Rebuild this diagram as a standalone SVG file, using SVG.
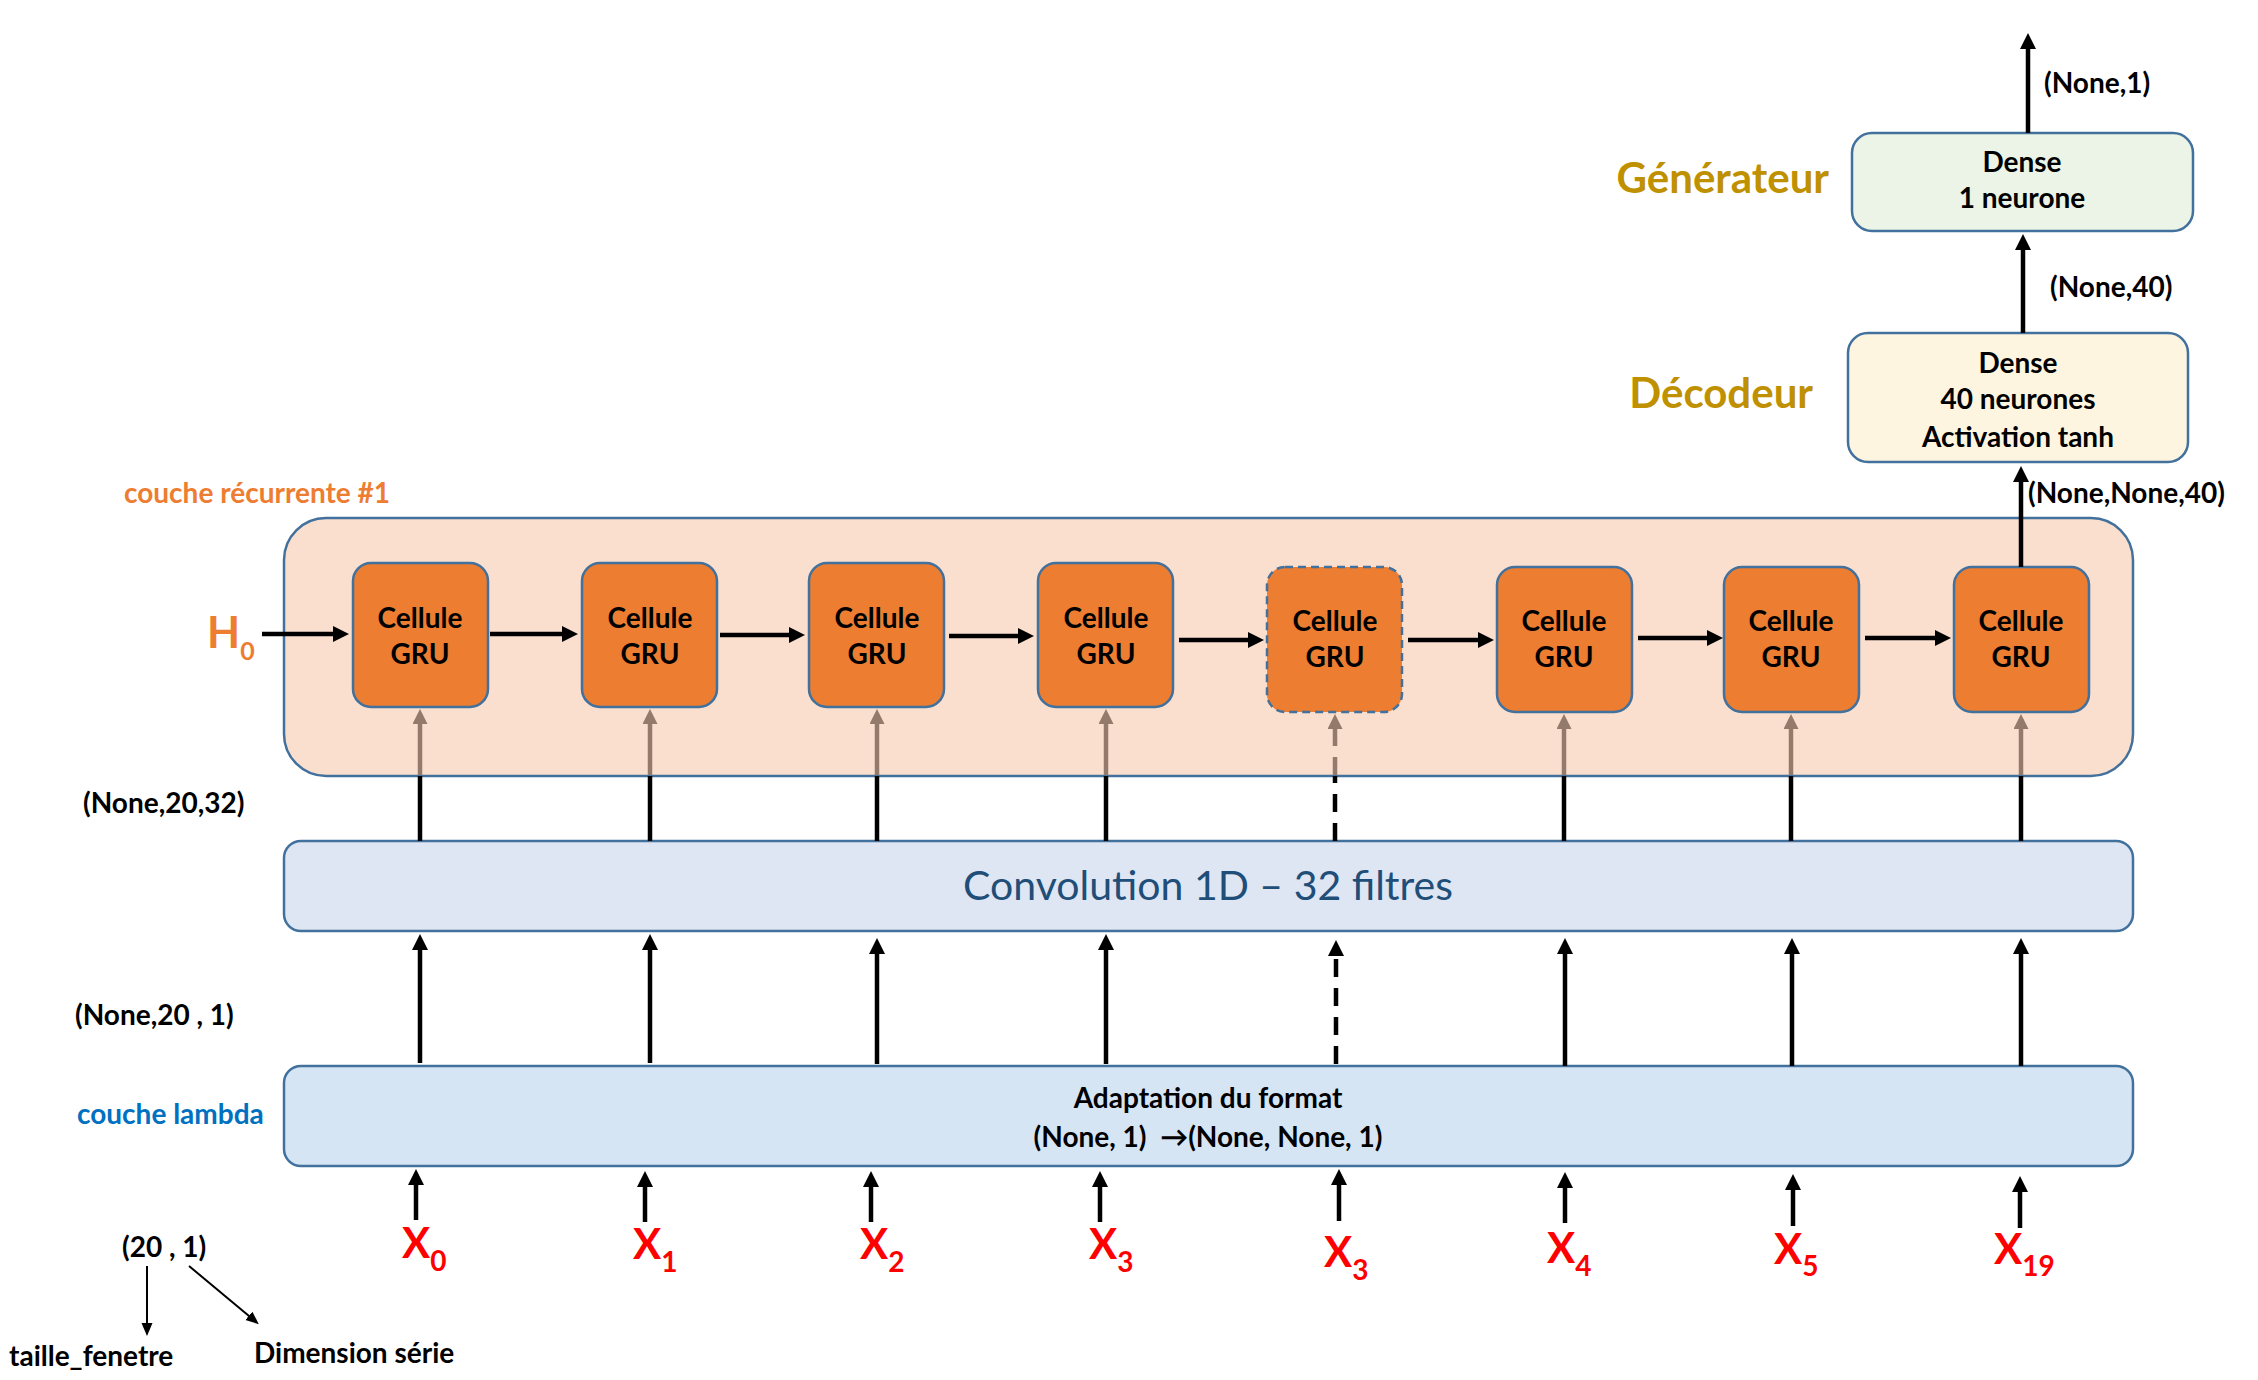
<svg xmlns="http://www.w3.org/2000/svg" width="2258" height="1380" viewBox="0 0 2258 1380">
<style>
text{font-family:Lato,"Open Sans","Liberation Sans",sans-serif;font-weight:bold;}
.blk{fill:#000;font-size:28px;}
.ctr{text-anchor:middle;}
.cell{fill:#ED7D31;stroke:#41719C;stroke-width:2.5;}
.box{stroke:#41719C;stroke-width:2.5;}
.ln{stroke:#000;stroke-width:4.5;fill:none;}
.br{stroke:#947A6A;stroke-width:4.5;fill:none;}
.dash{stroke-dasharray:18 11;}
.thin{stroke:#000;stroke-width:2;fill:none;}
.xl{fill:#FF0000;font-size:42px;}
.sub{font-size:28px;}
.gold{fill:#BF9000;font-size:42px;}
</style>
<defs>
<marker id="ab" markerUnits="userSpaceOnUse" markerWidth="18" markerHeight="18" refX="10" refY="8" orient="auto"><path d="M0,0 L16,8 L0,16 Z" fill="#000"/></marker>
<marker id="abr" markerUnits="userSpaceOnUse" markerWidth="18" markerHeight="18" refX="10" refY="7.5" orient="auto"><path d="M0,0 L15,7.5 L0,15 Z" fill="#947A6A"/></marker>
<marker id="as" markerUnits="userSpaceOnUse" markerWidth="14" markerHeight="12" refX="8" refY="5.5" orient="auto"><path d="M0,0 L13,5.5 L0,11 Z" fill="#000"/></marker>
</defs>
<rect width="2258" height="1380" fill="#fff"/>

<g id="recurrent-layer">
<rect x="284" y="518" width="1849" height="258" rx="42" fill="#FADFCF" class="box"/>
</g>
<g id="conv">
<rect x="284" y="841" width="1849" height="90" rx="17" fill="#DFE6F3" class="box"/>
<text x="1208" y="900" class="ctr" style="font-weight:normal;font-size:41px;fill:#1F4E79">Convolution 1D – 32 filtres</text>
</g>
<g id="lambda">
<rect x="284" y="1066" width="1849" height="100" rx="17" fill="#D6E5F4" class="box"/>
<text x="1208" y="1108" class="blk ctr">Adaptation du format</text>
<text x="1208" y="1147" class="blk ctr" xml:space="preserve">(None, 1)  →(None, None, 1)</text>
</g>
<g id="decodeur">
<rect x="1848" y="333" width="340" height="129" rx="20" fill="#FEF5E1" class="box"/>
<text x="2018" y="373" class="blk ctr">Dense</text>
<text x="2018" y="409" class="blk ctr">40 neurones</text>
<text x="2018" y="447" class="blk ctr">Activation tanh</text>
</g>
<g id="generateur">
<rect x="1852" y="133" width="341" height="98" rx="20" fill="#EBF4E6" class="box"/>
<text x="2022" y="172" class="blk ctr">Dense</text>
<text x="2022" y="208" class="blk ctr">1 neurone</text>
</g>

<g id="cell1"><rect x="353" y="563" width="135" height="144" rx="18" class="cell"/><text x="420" y="628" class="blk ctr">Cellule</text><text x="420" y="664" class="blk ctr">GRU</text></g>
<g id="cell2"><rect x="582" y="563" width="135" height="144" rx="18" class="cell"/><text x="650" y="628" class="blk ctr">Cellule</text><text x="650" y="664" class="blk ctr">GRU</text></g>
<g id="cell3"><rect x="809" y="563" width="135" height="144" rx="18" class="cell"/><text x="877" y="628" class="blk ctr">Cellule</text><text x="877" y="664" class="blk ctr">GRU</text></g>
<g id="cell4"><rect x="1038" y="563" width="135" height="144" rx="18" class="cell"/><text x="1106" y="628" class="blk ctr">Cellule</text><text x="1106" y="664" class="blk ctr">GRU</text></g>
<g id="cell5"><rect x="1267" y="567" width="135" height="145" rx="18" class="cell" stroke-dasharray="8 5"/><text x="1335" y="631" class="blk ctr">Cellule</text><text x="1335" y="667" class="blk ctr">GRU</text></g>
<g id="cell6"><rect x="1497" y="567" width="135" height="145" rx="18" class="cell"/><text x="1564" y="631" class="blk ctr">Cellule</text><text x="1564" y="667" class="blk ctr">GRU</text></g>
<g id="cell7"><rect x="1724" y="567" width="135" height="145" rx="18" class="cell"/><text x="1791" y="631" class="blk ctr">Cellule</text><text x="1791" y="667" class="blk ctr">GRU</text></g>
<g id="cell8"><rect x="1954" y="567" width="135" height="145" rx="18" class="cell"/><text x="2021" y="631" class="blk ctr">Cellule</text><text x="2021" y="667" class="blk ctr">GRU</text></g>

<g id="connectors">
<line x1="262" y1="634" x2="343" y2="634" class="ln" marker-end="url(#ab)"/>
<line x1="490" y1="634" x2="572" y2="634" class="ln" marker-end="url(#ab)"/>
<line x1="720" y1="635" x2="799" y2="635" class="ln" marker-end="url(#ab)"/>
<line x1="949" y1="636" x2="1028" y2="636" class="ln" marker-end="url(#ab)"/>
<line x1="1179" y1="640" x2="1258" y2="640" class="ln" marker-end="url(#ab)"/>
<line x1="1408" y1="640" x2="1488" y2="640" class="ln" marker-end="url(#ab)"/>
<line x1="1638" y1="638" x2="1717" y2="638" class="ln" marker-end="url(#ab)"/>
<line x1="1865" y1="638" x2="1945" y2="638" class="ln" marker-end="url(#ab)"/>

<line x1="420" y1="841" x2="420" y2="776" class="ln"/>
<line x1="650" y1="841" x2="650" y2="776" class="ln"/>
<line x1="877" y1="841" x2="877" y2="776" class="ln"/>
<line x1="1106" y1="841" x2="1106" y2="776" class="ln"/>
<line x1="1335" y1="841" x2="1335" y2="776" class="ln dash"/>
<line x1="1564" y1="841" x2="1564" y2="776" class="ln"/>
<line x1="1791" y1="841" x2="1791" y2="776" class="ln"/>
<line x1="2021" y1="841" x2="2021" y2="776" class="ln"/>
<line x1="420" y1="775" x2="420" y2="714" class="br" marker-end="url(#abr)"/>
<line x1="650" y1="775" x2="650" y2="714" class="br" marker-end="url(#abr)"/>
<line x1="877" y1="775" x2="877" y2="714" class="br" marker-end="url(#abr)"/>
<line x1="1106" y1="775" x2="1106" y2="714" class="br" marker-end="url(#abr)"/>
<line x1="1335" y1="775" x2="1335" y2="719" class="br dash" marker-end="url(#abr)"/>
<line x1="1564" y1="775" x2="1564" y2="719" class="br" marker-end="url(#abr)"/>
<line x1="1791" y1="775" x2="1791" y2="719" class="br" marker-end="url(#abr)"/>
<line x1="2021" y1="775" x2="2021" y2="719" class="br" marker-end="url(#abr)"/>

<line x1="420" y1="1063" x2="420" y2="940" class="ln" marker-end="url(#ab)"/>
<line x1="650" y1="1063" x2="650" y2="940" class="ln" marker-end="url(#ab)"/>
<line x1="877" y1="1064" x2="877" y2="944" class="ln" marker-end="url(#ab)"/>
<line x1="1106" y1="1064" x2="1106" y2="940" class="ln" marker-end="url(#ab)"/>
<line x1="1336" y1="1064" x2="1336" y2="946" class="ln dash" marker-end="url(#ab)"/>
<line x1="1565" y1="1066" x2="1565" y2="944" class="ln" marker-end="url(#ab)"/>
<line x1="1792" y1="1066" x2="1792" y2="944" class="ln" marker-end="url(#ab)"/>
<line x1="2021" y1="1066" x2="2021" y2="944" class="ln" marker-end="url(#ab)"/>

<line x1="416" y1="1220" x2="416" y2="1175" class="ln" marker-end="url(#ab)"/>
<line x1="645" y1="1222" x2="645" y2="1177" class="ln" marker-end="url(#ab)"/>
<line x1="871" y1="1222" x2="871" y2="1177" class="ln" marker-end="url(#ab)"/>
<line x1="1100" y1="1222" x2="1100" y2="1177" class="ln" marker-end="url(#ab)"/>
<line x1="1339" y1="1221" x2="1339" y2="1175" class="ln" marker-end="url(#ab)"/>
<line x1="1565" y1="1223" x2="1565" y2="1178" class="ln" marker-end="url(#ab)"/>
<line x1="1793" y1="1226" x2="1793" y2="1180" class="ln" marker-end="url(#ab)"/>
<line x1="2020" y1="1228" x2="2020" y2="1182" class="ln" marker-end="url(#ab)"/>

<line x1="2021" y1="567" x2="2021" y2="472" class="ln" marker-end="url(#ab)"/>
<line x1="2023" y1="333" x2="2023" y2="240" class="ln" marker-end="url(#ab)"/>
<line x1="2028" y1="133" x2="2028" y2="39" class="ln" marker-end="url(#ab)"/>

<line x1="147" y1="1266" x2="147" y2="1331" class="thin" marker-end="url(#as)"/>
<line x1="189" y1="1266" x2="255" y2="1321" class="thin" marker-end="url(#as)"/>
</g>

<g id="labels">
<text x="124" y="503" style="fill:#ED7D31;font-size:28px">couche récurrente #1</text>
<text x="207" y="648" style="fill:#ED7D31;font-size:43px">H<tspan dy="12" style="font-size:25px">0</tspan></text>
<text x="83" y="813" class="blk">(None,20,32)</text>
<text x="75" y="1025" class="blk">(None,20 , 1)</text>
<text x="77" y="1124" style="fill:#0070C0;font-size:28px">couche lambda</text>
<text x="122" y="1257" class="blk">(20 , 1)</text>
<text x="9" y="1366" class="blk">taille_fenetre</text>
<text x="254" y="1363" class="blk">Dimension série</text>
<text x="2028" y="503" class="blk">(None,None,40)</text>
<text x="2050" y="297" class="blk">(None,40)</text>
<text x="2044" y="93" class="blk">(None,1)</text>
<text x="1813" y="408" class="gold" text-anchor="end">Décodeur</text>
<text x="1829" y="193" class="gold" text-anchor="end">Générateur</text>

<text x="402" y="1258" class="xl">X<tspan dy="13" class="sub">0</tspan></text>
<text x="633" y="1259" class="xl">X<tspan dy="13" class="sub">1</tspan></text>
<text x="860" y="1259" class="xl">X<tspan dy="13" class="sub">2</tspan></text>
<text x="1089" y="1259" class="xl">X<tspan dy="13" class="sub">3</tspan></text>
<text x="1324" y="1267" class="xl">X<tspan dy="13" class="sub">3</tspan></text>
<text x="1547" y="1263" class="xl">X<tspan dy="13" class="sub">4</tspan></text>
<text x="1774" y="1264" class="xl">X<tspan dy="12" class="sub">5</tspan></text>
<text x="1994" y="1264" class="xl">X<tspan dy="12" class="sub">19</tspan></text>
</g>
</svg>
